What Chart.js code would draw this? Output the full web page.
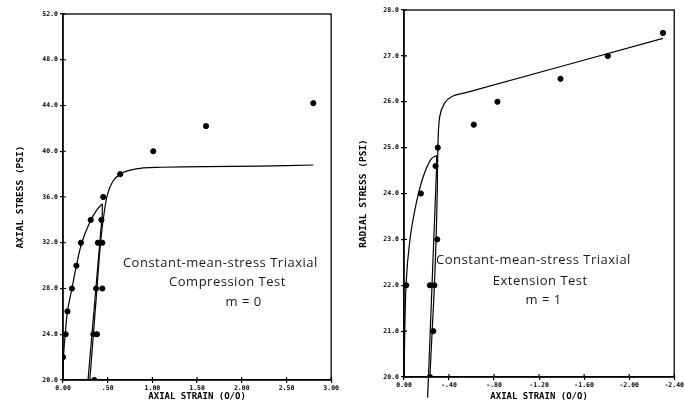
<!DOCTYPE html>
<html>
<head>
<meta charset="utf-8">
<script src="https://cdn.jsdelivr.net/npm/chart.js@4/dist/chart.umd.min.js"></script>
<style>
  html, body { margin: 0; padding: 0; background: #fff; }
  canvas { position: absolute; top: 0; }
  #compChart { left: 0; }
  #extChart { left: 340px; }
</style>
</head>
<body>
<canvas id="compChart" width="340" height="405"></canvas>
<canvas id="extChart" width="345" height="405"></canvas>
<script>
// Compression test (m = 0): measured points
const compStrain = [0.00, 0.03, 0.05, 0.10, 0.15, 0.20, 0.31, 0.34, 0.37, 0.38, 0.39, 0.43, 0.44, 0.44, 0.45, 0.64, 1.01, 1.60, 2.80, 0.35];
const compStress = [22.0, 24.0, 26.0, 28.0, 30.0, 32.0, 34.0, 24.0, 28.0, 24.0, 32.0, 34.0, 28.0, 32.0, 36.0, 38.0, 40.0, 42.2, 44.2, 20.0];

// Compression test: fitted curves
const compLoadStrain = [0.00, 0.005, 0.025, 0.05, 0.10, 0.15, 0.21, 0.30, 0.38, 0.44];
const compLoadStress = [20.0, 22.0, 24.0, 26.0, 28.0, 30.0, 32.0, 33.8, 34.9, 35.4];
const compUnloadStrain = [0.44, 0.44, 0.28];
const compUnloadStress = [35.4, 34.6, 20.0];
const compReloadStrain = [0.30, 0.34, 0.38, 0.42, 0.46, 0.50, 0.56, 0.64, 0.75, 0.90, 1.10, 1.60, 2.20, 2.80];
const compReloadStress = [20.0, 24.0, 28.0, 32.0, 34.6, 36.3, 37.4, 38.0, 38.35, 38.55, 38.6, 38.65, 38.7, 38.8];

// Extension test (m = 1): measured points
const extStrain = [-0.02, -0.23, -0.27, -0.26, -0.23, -0.295, -0.15, -0.28, -0.30, -0.62, -0.83, -1.39, -1.81, -2.30];
const extStress = [22.0, 22.0, 22.0, 21.0, 20.0, 23.0, 24.0, 24.6, 25.0, 25.5, 26.0, 26.5, 27.0, 27.5];

// Extension test: fitted curves
const extLoadStrain = [0.00, -0.018, -0.053, -0.11, -0.17, -0.24, -0.29];
const extLoadStress = [20.0, 22.0, 23.0, 23.8, 24.36, 24.75, 24.83];
const extUnloadStrain = [-0.29, -0.29, -0.21];
const extUnloadStress = [24.83, 24.6, 19.55];
const extReloadStrain = [-0.23, -0.25, -0.27, -0.285, -0.295, -0.30, -0.316, -0.36, -0.43, -0.55, -2.30];
const extReloadStress = [20.0, 21.0, 22.0, 23.0, 24.0, 24.87, 25.66, 25.97, 26.12, 26.2, 27.38];

const compXTicks = [0, 0.5, 1.0, 1.5, 2.0, 2.5, 3.0];
const compYTicks = [20, 24, 28, 32, 36, 40, 44, 48, 52];
const extXTicks = [0, -0.4, -0.8, -1.2, -1.6, -2.0, -2.4];
const extYTicks = [20, 21, 22, 23, 24, 25, 26, 27, 28];

const pairs = (xs, ys) => xs.map((x, i) => ({ x: x, y: ys[i] }));

const plotFont = { family: 'DejaVu Sans Mono', weight: 'bold' };

// box around the plot area, with the tick crosses reaching inside
const frame = {
  id: 'frame',
  beforeDatasetsDraw(chart) {
    const a = chart.chartArea;
    const ctx = chart.ctx;
    ctx.save();
    ctx.strokeStyle = '#000';
    ctx.lineWidth = 1.3;
    ctx.strokeRect(a.left, a.top, a.right - a.left, a.bottom - a.top);
    ctx.lineWidth = 1.2;
    ctx.beginPath();
    chart.scales.x.ticks.forEach(t => {
      const px = chart.scales.x.getPixelForValue(t.value);
      ctx.moveTo(px, a.bottom);
      ctx.lineTo(px, a.bottom - 3);
    });
    chart.scales.y.ticks.forEach(t => {
      const py = chart.scales.y.getPixelForValue(t.value);
      ctx.moveTo(a.left, py);
      ctx.lineTo(a.left + 3, py);
    });
    ctx.stroke();
    ctx.restore();
  }
};

// handwritten caption inside the plot
const caption = {
  id: 'caption',
  afterDatasetsDraw(chart, args, opts) {
    const ctx = chart.ctx;
    const sx = chart.scales.x, sy = chart.scales.y;
    ctx.save();
    ctx.fillStyle = '#1a1a1a';
    ctx.font = '13px "Open Sans"';
    ctx.letterSpacing = '0.5px';
    ctx.textAlign = 'center';
    ctx.textBaseline = 'middle';
    opts.lines.forEach(l => {
      ctx.fillText(l.text, sx.getPixelForValue(l.x), sy.getPixelForValue(l.y));
    });
    ctx.restore();
  }
};

function curve(data) {
  return {
    type: 'line', data: data, showLine: true, borderColor: '#000', borderWidth: 1.2,
    pointRadius: 0, tension: 0.35, fill: false, clip: false
  };
}

function makeChart(id, cfg) {
  return new Chart(document.getElementById(id), {
    type: 'scatter',
    data: {
      datasets: [
        {
          data: pairs(cfg.strain, cfg.stress), backgroundColor: '#000', borderColor: '#000',
          pointRadius: 2.6, pointHoverRadius: 2.6
        },
        curve(pairs(cfg.load[0], cfg.load[1])),
        Object.assign(curve(pairs(cfg.unload[0], cfg.unload[1])), { tension: 0 }),
        curve(pairs(cfg.reload[0], cfg.reload[1]))
      ]
    },
    options: {
      responsive: false,
      animation: false,
      events: [],
      layout: { padding: cfg.padding },
      plugins: { legend: { display: false }, tooltip: { enabled: false }, caption: { lines: cfg.notes } },
      scales: {
        x: {
          type: 'linear', min: cfg.xMin, max: cfg.xMax, reverse: cfg.reverse,
          afterBuildTicks: s => { s.ticks = cfg.xTicks.map(v => ({ value: v })); },
          afterFit: s => { s.height = cfg.xHeight; },
          grid: { drawOnChartArea: false, tickLength: 3, color: '#000', lineWidth: 1.2 },
          border: { color: '#000', width: 1.5 },
          ticks: {
            color: '#000', font: Object.assign({ size: 6.5 }, plotFont), padding: 1, maxRotation: 0,
            callback: v => {
              if (v === 0) return '0.00';
              const s = Math.abs(v).toFixed(2).replace(/^0/, '');
              return (v < 0 ? '-' : '') + s;
            }
          },
          title: { display: true, text: 'AXIAL STRAIN (O/O)', color: '#000', font: Object.assign({ size: 9 }, plotFont), padding: { top: 0, bottom: 3 } }
        },
        y: {
          type: 'linear', min: cfg.yMin, max: cfg.yMax,
          afterBuildTicks: s => { s.ticks = cfg.yTicks.map(v => ({ value: v })); },
          afterFit: s => { s.width = cfg.yWidth; },
          grid: { drawOnChartArea: false, tickLength: 3, color: '#000', lineWidth: 1.2 },
          border: { color: '#000', width: 1.5 },
          ticks: { color: '#000', font: Object.assign({ size: 6.5 }, plotFont), padding: 2, callback: v => v.toFixed(1) },
          title: { display: true, text: cfg.yTitle, color: '#000', font: Object.assign({ size: 9.5 }, plotFont), padding: { top: cfg.yTitlePad, bottom: 0 } }
        }
      }
    },
    plugins: [frame, caption]
  });
}

makeChart('compChart', {
  strain: compStrain, stress: compStress,
  load: [compLoadStrain, compLoadStress],
  unload: [compUnloadStrain, compUnloadStress],
  reload: [compReloadStrain, compReloadStress],
  xMin: 0, xMax: 3, reverse: false, yMin: 20, yMax: 52,
  xTicks: compXTicks, yTicks: compYTicks,
  yTitle: 'AXIAL STRESS (PSI)', yTitlePad: 15,
  padding: { top: 14, right: 4, left: 0, bottom: 0 }, xHeight: 25, yWidth: 63,
  notes: [
    { text: 'Constant-mean-stress Triaxial', x: 1.76, y: 30.2 },
    { text: 'Compression Test', x: 1.84, y: 28.5 },
    { text: 'm = 0', x: 2.02, y: 26.8 }
  ]
});

makeChart('extChart', {
  strain: extStrain, stress: extStress,
  load: [extLoadStrain, extLoadStress],
  unload: [extUnloadStrain, extUnloadStress],
  reload: [extReloadStrain, extReloadStress],
  xMin: -2.4, xMax: 0, reverse: true, yMin: 20, yMax: 28,
  xTicks: extXTicks, yTicks: extYTicks,
  yTitle: 'RADIAL STRESS (PSI)', yTitlePad: 18,
  padding: { top: 10, right: 7, left: 0, bottom: 0 }, xHeight: 28, yWidth: 64,
  notes: [
    { text: 'Constant-mean-stress Triaxial', x: -1.15, y: 22.54 },
    { text: 'Extension Test', x: -1.21, y: 22.08 },
    { text: 'm = 1', x: -1.24, y: 21.67 }
  ]
});
</script>
</body>
</html>
